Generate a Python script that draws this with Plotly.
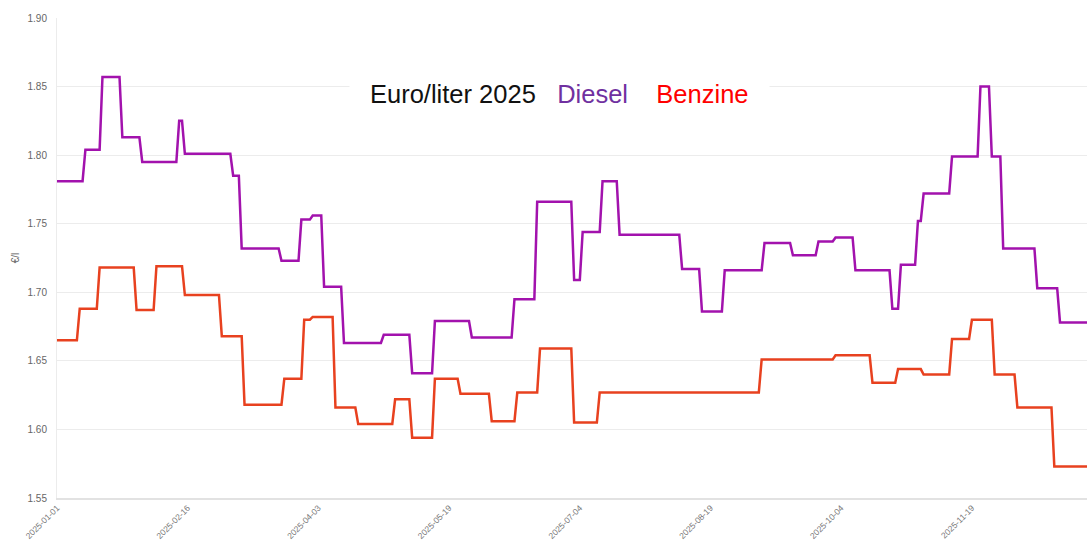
import pandas as pd
import plotly.graph_objects as go

# Price change dates and the price valid from that day on (daily series, step-wise)
diesel_change_dates = [
    "2025-01-01", "2025-01-11", "2025-01-17", "2025-01-24", "2025-01-31", "2025-02-13",
    "2025-02-15", "2025-03-04", "2025-03-07", "2025-03-21", "2025-03-28", "2025-04-01",
    "2025-04-05", "2025-04-12", "2025-04-26", "2025-05-06", "2025-05-14", "2025-05-27",
    "2025-06-11", "2025-06-19", "2025-07-02", "2025-07-05", "2025-07-12", "2025-07-18",
    "2025-08-09", "2025-08-16", "2025-08-24", "2025-09-07", "2025-09-17", "2025-09-26",
    "2025-10-02", "2025-10-09", "2025-10-22", "2025-10-25", "2025-10-31", "2025-11-02",
    "2025-11-12", "2025-11-22", "2025-11-26", "2025-11-30", "2025-12-12", "2025-12-20",
]
diesel_values = [
    1.781, 1.804, 1.857, 1.813, 1.795, 1.825,
    1.801, 1.785, 1.732, 1.723, 1.753, 1.756,
    1.704, 1.663, 1.669, 1.641, 1.679, 1.667,
    1.695, 1.766, 1.709, 1.744, 1.781, 1.742,
    1.717, 1.686, 1.716, 1.736, 1.727, 1.737,
    1.740, 1.716, 1.688, 1.720, 1.752, 1.772,
    1.799, 1.850, 1.799, 1.732, 1.703, 1.678,
]

benzine_change_dates = [
    "2025-01-01", "2025-01-09", "2025-01-16", "2025-01-29", "2025-02-05", "2025-02-15",
    "2025-02-28", "2025-03-08", "2025-03-22", "2025-03-29", "2025-04-01", "2025-04-09",
    "2025-04-17", "2025-04-30", "2025-05-06", "2025-05-14", "2025-05-23", "2025-06-03",
    "2025-06-12", "2025-06-20", "2025-07-02", "2025-07-11", "2025-09-06", "2025-10-02",
    "2025-10-15", "2025-10-24", "2025-11-02", "2025-11-12", "2025-11-19", "2025-11-27",
    "2025-12-05", "2025-12-18",
]
benzine_values = [
    1.665, 1.688, 1.718, 1.687, 1.719, 1.698,
    1.668, 1.618, 1.637, 1.680, 1.682, 1.616,
    1.604, 1.622, 1.594, 1.637, 1.626, 1.606,
    1.627, 1.659, 1.605, 1.627, 1.651, 1.654,
    1.634, 1.644, 1.640, 1.666, 1.680, 1.640,
    1.616, 1.573,
]

tick_labels = ["2025-01-01", "2025-02-16", "2025-04-03", "2025-05-19",
               "2025-07-04", "2025-08-19", "2025-10-04", "2025-11-19"]
y_ticks = [1.55, 1.60, 1.65, 1.70, 1.75, 1.80, 1.85, 1.90]

days = pd.date_range("2025-01-01", "2025-12-31", freq="D")


def daily(dates, values):
    s = pd.Series(values, index=pd.to_datetime(dates))
    return s.reindex(days, method="ffill")


diesel = daily(diesel_change_dates, diesel_values)
benzine = daily(benzine_change_dates, benzine_values)

DIESEL_LINE = "#a212ad"
BENZINE_LINE = "#e8411f"
FONT = "Liberation Sans, Arial, sans-serif"

fig = go.Figure()
fig.add_trace(go.Scatter(x=days, y=diesel.values, mode="lines", name="Diesel",
                         line=dict(color=DIESEL_LINE, width=2.5)))
fig.add_trace(go.Scatter(x=days, y=benzine.values, mode="lines", name="Benzine",
                         line=dict(color=BENZINE_LINE, width=2.5)))

fig.update_layout(
    width=1087, height=543,
    margin=dict(l=57, r=0, t=18, b=45, autoexpand=False),
    paper_bgcolor="white", plot_bgcolor="white",
    showlegend=False,
    font=dict(family=FONT, size=10, color="#666666"),
    annotations=[dict(
        xref="paper", yref="paper", x=0.4875, y=0.842,
        xanchor="center", yanchor="middle", showarrow=False,
        text=("<span style='color:#111111'>Euro/liter 2025</span>\u00a0\u00a0\u00a0"
              "<span style='color:#7030a0'>Diesel</span>\u00a0\u00a0\u00a0\u00a0"
              "<span style='color:#ff0000'>Benzine</span>"),
        font=dict(family=FONT, size=25.5, color="#111111"),
        bgcolor="white", borderpad=20,
    )],
)

fig.update_xaxes(
    type="date", automargin=False,
    range=["2025-01-01", "2025-12-29 12:00"],
    tickmode="array", tickvals=tick_labels, ticktext=tick_labels,
    tickangle=-45, tickfont=dict(size=8.5, color="#777777"),
    showgrid=False, zeroline=False,
    showline=True, linecolor="#e2e2e2", linewidth=1.5,
    ticks="", ticklabelstandoff=0,
)
fig.update_yaxes(
    automargin=False,
    range=[1.55, 1.90],
    tickmode="array", tickvals=y_ticks, ticktext=[f"{v:.2f}" for v in y_ticks],
    tickfont=dict(size=10, color="#666666"),
    showgrid=True, gridcolor="#ececec", gridwidth=1,
    zeroline=False, showline=True, linecolor="#ececec", linewidth=1,
    ticks="", ticklabelstandoff=7,
    title=dict(text="€/l", font=dict(size=10, color="#666666"), standoff=6),
)

fig.write_html("out.html", config={"displayModeBar": False},
               post_script="document.body.style.margin='0';")
